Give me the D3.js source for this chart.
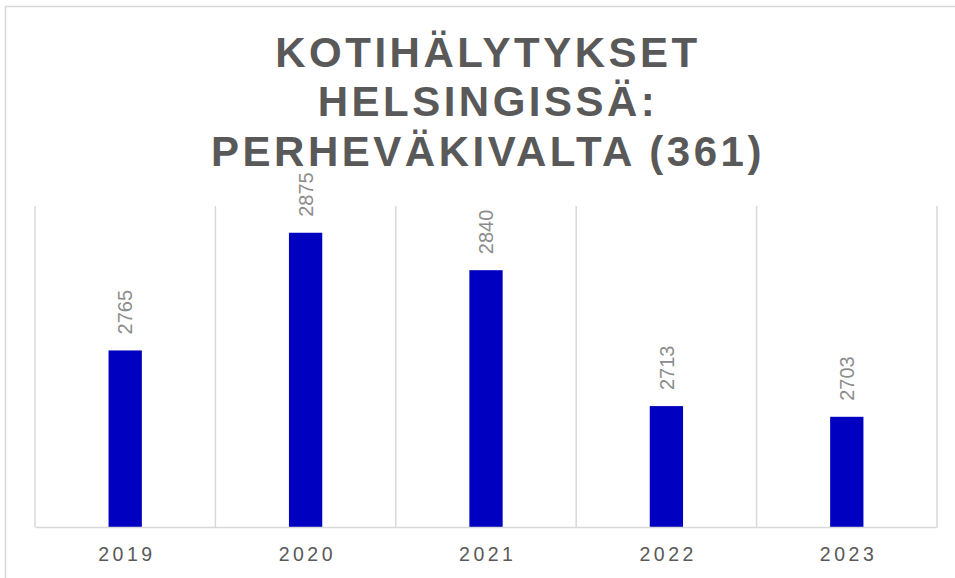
<!DOCTYPE html>
<html>
<head>
<meta charset="utf-8">
<script src="https://cdn.jsdelivr.net/npm/d3@7"></script>
<style>
  html, body { margin: 0; padding: 0; background: #fff; }
  svg { display: block; }
</style>
</head>
<body>
<svg id="chart" width="955" height="578"></svg>
<script>
const titleLines = ["KOTIHÄLYTYKSET", "HELSINGISSÄ:", "PERHEVÄKIVALTA (361)"];
const years = ["2019", "2020", "2021", "2022", "2023"];
const values = [2765, 2875, 2840, 2713, 2703];
const yDomain = [2600, 2900];

const svg = d3.select("#chart");
const plot = { left: 35, right: 937, top: 206, bottom: 527 };
const grid = "#d9d9d9";

// outer chart frame (only top/left visible)
svg.append("rect")
  .attr("x", 5.5).attr("y", 6.5)
  .attr("width", 1000).attr("height", 1000)
  .attr("fill", "none").attr("stroke", grid).attr("stroke-width", 1.5);

// title
const title = svg.append("text")
  .attr("text-anchor", "middle")
  .attr("font-family", "Liberation Sans, Arial, sans-serif")
  .attr("font-weight", "bold")
  .attr("font-size", 42)
  .attr("letter-spacing", 3.5)
  .attr("fill", "#595959");
titleLines.forEach((t, i) => {
  title.append("tspan").attr("x", 488).attr("y", 66.5 + i * 49.5).text(t);
});

const x = d3.scaleBand().domain(years).range([plot.left, plot.right]).paddingInner(0).paddingOuter(0);
const y = d3.scaleLinear().domain(yDomain).range([plot.bottom, plot.top]);

// vertical gridlines at category boundaries
const bounds = years.map(d => x(d)).concat([x(years[years.length - 1]) + x.bandwidth()]);
svg.append("g").selectAll("line").data(bounds).join("line")
  .attr("x1", d => d).attr("x2", d => d)
  .attr("y1", plot.top).attr("y2", plot.bottom)
  .attr("stroke", grid).attr("stroke-width", 1.5);

// bars
const barW = 33.3;
svg.append("g").selectAll("rect").data(values).join("rect")
  .attr("x", (d, i) => x(years[i]) + x.bandwidth() / 2 - barW / 2)
  .attr("y", d => y(d))
  .attr("width", barW)
  .attr("height", d => y(yDomain[0]) - y(d))
  .attr("fill", "#0000C0");

// baseline axis
const xAxis = d3.axisBottom(x).tickSize(0).tickPadding(0);
const gx = svg.append("g").attr("transform", `translate(0,${plot.bottom})`).call(xAxis);
gx.select(".domain").attr("stroke", grid).attr("stroke-width", 1.5);
gx.selectAll("text")
  .attr("dy", null)
  .attr("y", 34)
  .attr("font-family", "Liberation Sans, Arial, sans-serif")
  .attr("font-size", 19.5)
  .attr("letter-spacing", 3.5)
  .attr("fill", "#595959")
  .attr("dx", 1.75);

// value labels (rotated)
svg.append("g").selectAll("text").data(values).join("text")
  .attr("transform", (d, i) => `translate(${x(years[i]) + x.bandwidth() / 2},${y(d) - 16}) rotate(-90)`)
  .attr("dy", "0.36em")
  .attr("text-anchor", "start")
  .attr("font-family", "Liberation Sans, Arial, sans-serif")
  .attr("font-size", 20)
  .attr("fill", "#8c8c8c")
  .text(d => d);
</script>
</body>
</html>
